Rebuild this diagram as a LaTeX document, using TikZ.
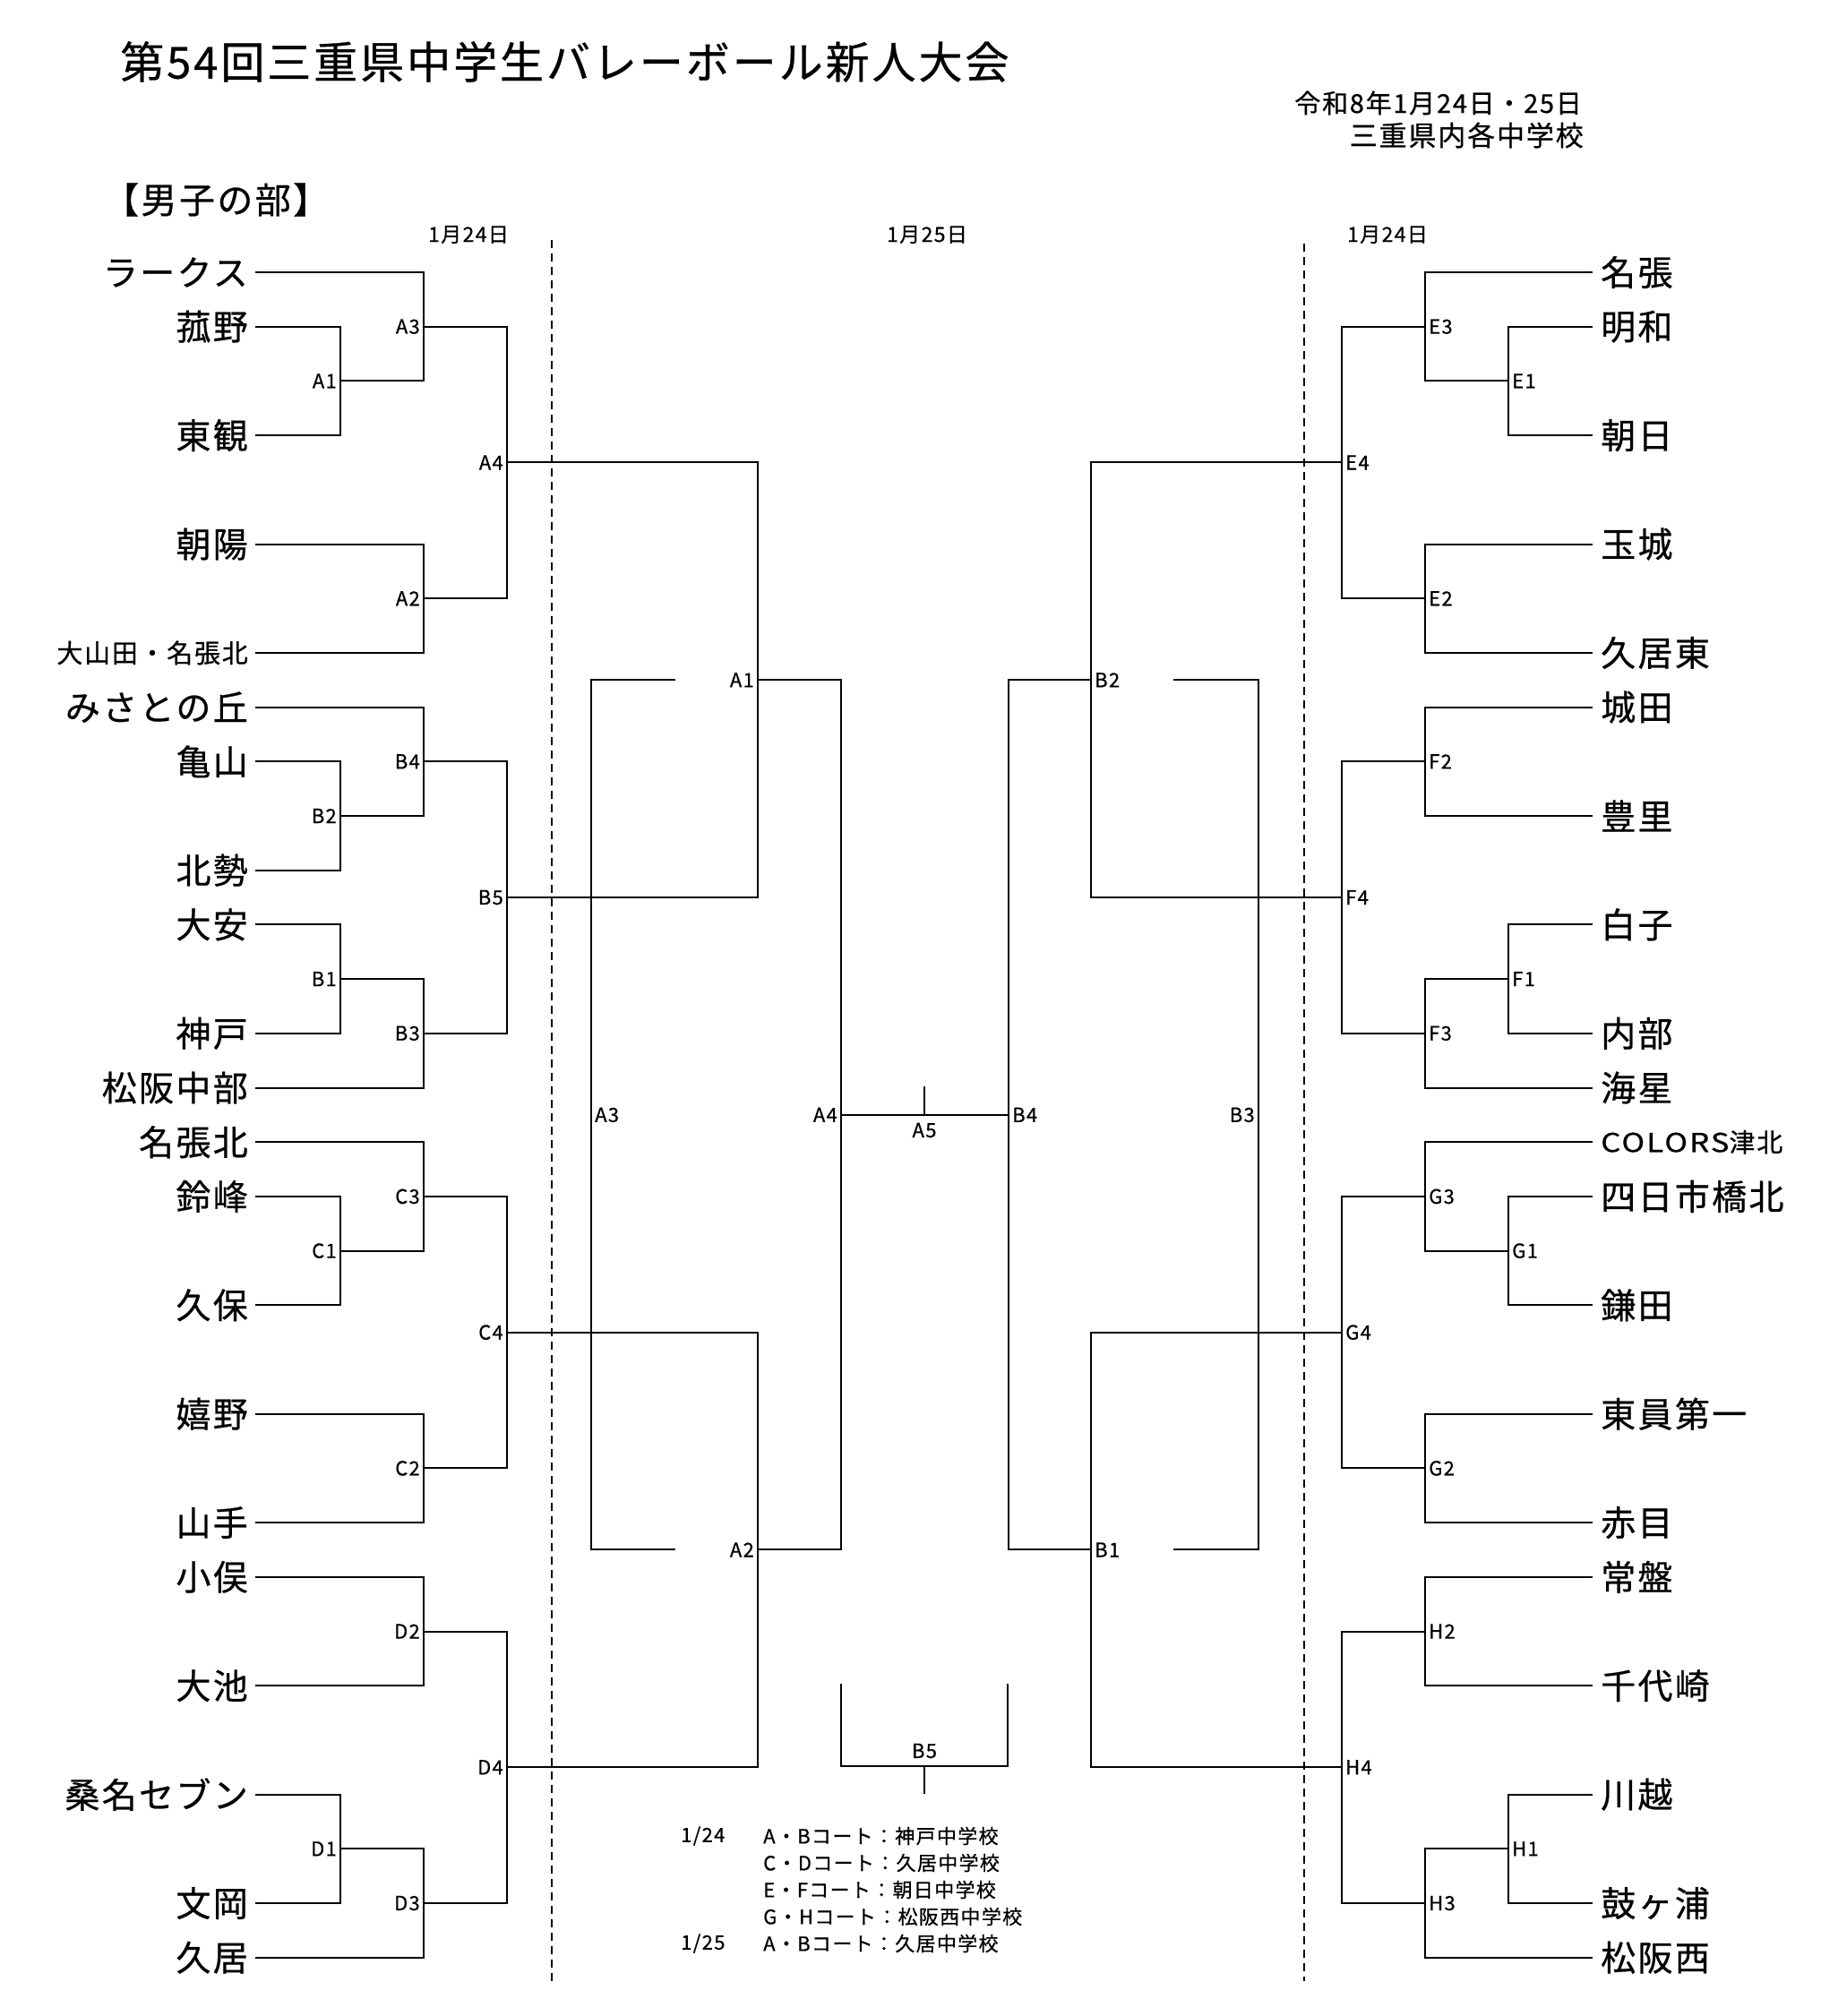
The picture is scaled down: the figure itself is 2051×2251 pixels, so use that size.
\documentclass[tikz,border=0pt]{standalone}
\usepackage{fontspec}
\newfontfamily\jp[LetterSpace=6,FakeBold=0.6]{Noto Sans CJK JP}
\newcommand\RY[1]{304+60.7*(#1)}
\tikzset{
  ln/.style={line width=2pt, line cap=rect},
  dsh/.style={line width=1.5pt, dash pattern=on 9pt off 6pt},
  team/.style={inner sep=0pt, font=\jp\fontsize{39}{41}\selectfont},
  steam/.style={inner sep=0pt, font=\jp\fontsize{29}{31}\selectfont},
  lbl/.style={inner sep=0pt, font=\jp\fontsize{22}{24}\selectfont},
  hdr/.style={inner sep=0pt, font=\jp\fontsize{23}{25}\selectfont},
  note/.style={inner sep=0pt, anchor=west, font=\jp\fontsize{22}{24}\selectfont},
}
\begin{document}
\begin{tikzpicture}[x=1pt,y=-1pt]
\useasboundingbox[fill=white] (0,0) rectangle (2051,2251);

% headers
\node[inner sep=0pt, anchor=west, font=\jp\fontsize{49}{51}\selectfont] (title) at (134,69) {第54回三重県中学生バレーボール新人大会};
\node[inner sep=0pt, anchor=east, font=\jp\fontsize{29}{31}\selectfont] (date) at (1766,115) {令和8年1月24日・25日};
\node[inner sep=0pt, anchor=east, font=\jp\fontsize{31}{33}\selectfont] (venue) at (1768,151) {三重県内各中学校};
\node[inner sep=0pt, anchor=west, font=\jp\fontsize{40}{42}\selectfont] (sect) at (115,223) {【男子の部】};
\node[hdr] (d1) at (523,262) {1月24日};
\node[hdr] (d2) at (1035,262) {1月25日};
\node[hdr] (d3) at (1549,262) {1月24日};

% dashed separators
\coordinate (s1a) at (616,268); \coordinate (s1b) at (616,2212);
\coordinate (s2a) at (1456,272); \coordinate (s2b) at (1456,2212);
\draw[dsh] (s1a) -- (s1b);
\draw[dsh] (s2a) -- (s2b);

% left junctions
\foreach \n/\x/\r in {A1/380/2, A3/473/1, A2/473/6, A4/566/3.5,
  B2/380/10, B4/473/9, B1/380/13, B3/473/14, B5/566/11.5,
  C1/380/18, C3/473/17, C2/473/22, C4/566/19.5,
  D2/473/25, D1/380/29, D3/473/30, D4/566/27.5}{
  \coordinate (j\n) at (\x,{\RY{\r}});
  \node[lbl, anchor=east] (t\n) at ([xshift=-4pt]j\n) {\n};
}
% right junctions
\foreach \n/\x/\r in {E1/1684/2, E3/1591/1, E2/1591/6, E4/1498/3.5,
  F2/1591/9, F1/1684/13, F3/1591/14, F4/1498/11.5,
  G1/1684/18, G3/1591/17, G2/1591/22, G4/1498/19.5,
  H2/1591/25, H1/1684/29, H3/1591/30, H4/1498/27.5}{
  \coordinate (j\n) at (\x,{\RY{\r}});
  \node[lbl, anchor=west] (t\n) at ([xshift=4pt]j\n) {\n};
}

% left teams
\foreach \r/\s/\name/\j in {0/team/ラークス/A3, 1/team/菰野/A1, 3/team/東観/A1,
  5/team/朝陽/A2, 7/steam/大山田・名張北/A2, 8/team/みさとの丘/B4, 9/team/亀山/B2,
  11/team/北勢/B2, 12/team/大安/B1, 14/team/神戸/B1, 15/team/松阪中部/B3,
  16/team/名張北/C3, 17/team/鈴峰/C1, 19/team/久保/C1, 21/team/嬉野/C2,
  23/team/山手/C2, 24/team/小俣/D2, 26/team/大池/D2, 28/team/桑名セブン/D1,
  30/team/文岡/D1, 31/team/久居/D3}{
  \node[\s, anchor=east] (L\r) at (277,{\RY{\r}}) {\name};
  \coordinate (l\r) at (286,{\RY{\r}});
  \draw[ln] (l\r) -| (j\j);
}
% right teams
\foreach \r/\s/\name/\j in {0/team/名張/E3, 1/team/明和/E1, 3/team/朝日/E1,
  5/team/玉城/E2, 7/team/久居東/E2, 8/team/城田/F2, 10/team/豊里/F2,
  12/team/白子/F1, 14/team/内部/F1, 15/team/海星/F3,
  17/team/四日市橋北/G1, 19/team/鎌田/G1, 21/team/東員第一/G2, 23/team/赤目/G2,
  24/team/常盤/H2, 26/team/千代崎/H2, 28/team/川越/H1, 30/team/鼓ヶ浦/H1,
  31/team/松阪西/H3}{
  \node[\s, anchor=west] (R\r) at (1787,{\RY{\r}}) {\name};
  \coordinate (r\r) at (1777,{\RY{\r}});
  \draw[ln] (r\r) -| (j\j);
}
\node[steam, anchor=west] (R16) at (1787,{\RY{16}}) {\scalebox{1.2}[1]{COLORS}津北};
\coordinate (r16) at (1777,{\RY{16}});
\draw[ln] (r16) -| (jG3);

% inner links
\foreach \a/\b in {A1/A3, A3/A4, A2/A4, B2/B4, B4/B5, B1/B3, B3/B5,
  C1/C3, C3/C4, C2/C4, D2/D4, D1/D3, D3/D4,
  E1/E3, E3/E4, E2/E4, F2/F4, F1/F3, F3/F4,
  G1/G3, G3/G4, G2/G4, H2/H4, H1/H3, H3/H4}{
  \draw[ln] (j\a) -| (j\b);
}

% middle (day 2)
\coordinate (mA1) at (846,{\RY{7.5}});
\coordinate (mA2) at (846,{\RY{23.5}});
\coordinate (mA4) at (939,{\RY{15.5}});
\coordinate (mB2) at (1218,{\RY{7.5}});
\coordinate (mB1) at (1218,{\RY{23.5}});
\coordinate (mB4) at (1126,{\RY{15.5}});
\draw[ln] (jA4) -| (mA1);
\draw[ln] (jB5) -| (mA1);
\draw[ln] (jC4) -| (mA2);
\draw[ln] (jD4) -| (mA2);
\draw[ln] (jE4) -| (mB2);
\draw[ln] (jF4) -| (mB2);
\draw[ln] (jG4) -| (mB1);
\draw[ln] (jH4) -| (mB1);
\draw[ln] (mA1) -| (mA4);
\draw[ln] (mA2) -| (mA4);
\draw[ln] (mB2) -| (mB4);
\draw[ln] (mB1) -| (mB4);
\draw[ln, line width=2.5pt] (mA4) -- (mB4);
\coordinate (fin) at (1032,{\RY{15.5}});
\coordinate (fint) at (1032,1214);
\draw[ln] (fin) -- (fint);
\node[lbl, anchor=east] (tmA1) at ([xshift=-4pt]mA1) {A1};
\node[lbl, anchor=east] (tmA2) at ([xshift=-4pt]mA2) {A2};
\node[lbl, anchor=east] (tmA4) at ([xshift=-4pt]mA4) {A4};
\node[lbl, anchor=west] (tmB2) at ([xshift=4pt]mB2) {B2};
\node[lbl, anchor=west] (tmB1) at ([xshift=4pt]mB1) {B1};
\node[lbl, anchor=west] (tmB4) at ([xshift=4pt]mB4) {B4};
\node[lbl] (tA5) at (1032,1262) {A5};

% losers' brackets (3rd place)
\coordinate (la1) at (753,{\RY{7.5}}); \coordinate (la2) at (660,{\RY{7.5}});
\coordinate (la3) at (660,{\RY{23.5}}); \coordinate (la4) at (753,{\RY{23.5}});
\draw[ln] (la1) -- (la2) -- (la3) -- (la4);
\node[lbl, anchor=west] (tlA3) at (664,{\RY{15.5}}) {A3};
\coordinate (lb1) at (1311,{\RY{7.5}}); \coordinate (lb2) at (1405,{\RY{7.5}});
\coordinate (lb3) at (1405,{\RY{23.5}}); \coordinate (lb4) at (1311,{\RY{23.5}});
\draw[ln] (lb1) -- (lb2) -- (lb3) -- (lb4);
\node[lbl, anchor=east] (tlB3) at (1401,{\RY{15.5}}) {B3};

% B5 bracket
\coordinate (b5a) at (939,1881); \coordinate (b5b) at (939,1972);
\coordinate (b5c) at (1125,1972); \coordinate (b5d) at (1125,1881);
\draw[ln] (b5a) -- (b5b) -- (b5c) -- (b5d);
\coordinate (b5m) at (1032,1972); \coordinate (b5t) at (1032,2002);
\draw[ln] (b5m) -- (b5t);
\node[lbl] (tB5) at (1032,1955) {B5};

% notes
\node[note] (n0) at (760,2050) {1/24};
\node[note] (n1) at (852,2050) {A・Bコート：神戸中学校};
\node[note] (n2) at (852,2080) {C・Dコート：久居中学校};
\node[note] (n3) at (852,2110) {E・Fコート：朝日中学校};
\node[note] (n4) at (852,2140) {G・Hコート：松阪西中学校};
\node[note] (n5) at (760,2170) {1/25};
\node[note] (n6) at (852,2170) {A・Bコート：久居中学校};
\end{tikzpicture}
\end{document}
